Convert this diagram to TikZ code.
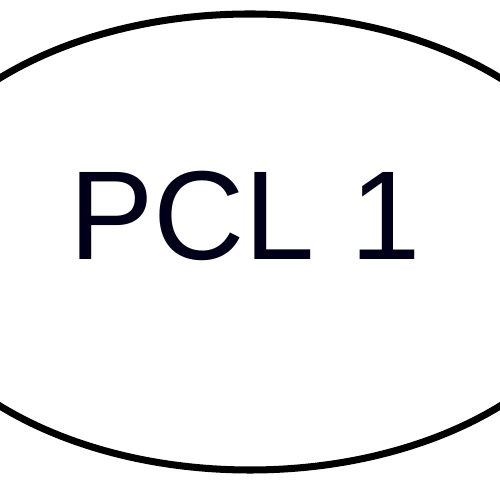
\documentclass[tikz,border=0pt]{standalone}
\usepackage{fontspec}
\setmainfont{Liberation Sans}
\usetikzlibrary{shapes.geometric,positioning}
\tikzset{
  procbox/.style = {ellipse, draw, line width=2pt, minimum width=7.2cm,
                    minimum height=4.56cm, inner sep=0pt},
  proclabel/.style = {font=\fontsize{36}{40}\selectfont, text=black!90!blue},
}
\begin{document}
\begin{tikzpicture}
  \useasboundingbox (0,0) rectangle (5,5);
  \node[procbox] (pcl) at (2.5,2.58) {};
  \node[proclabel] (pcllabel) at (2.45,2.84) {PCL 1};
\end{tikzpicture}
\end{document}
